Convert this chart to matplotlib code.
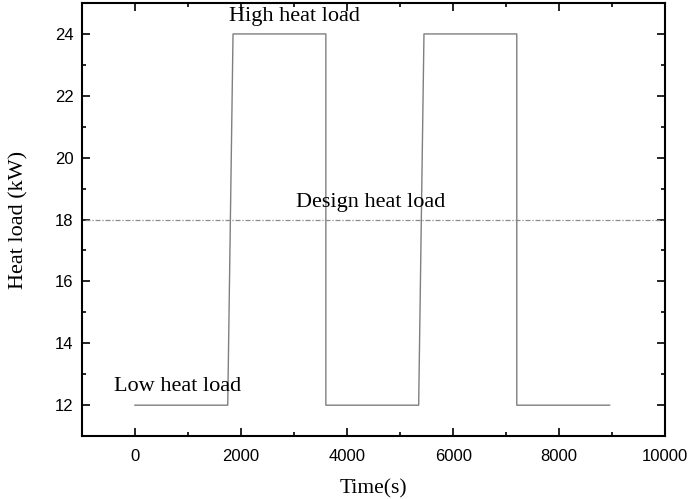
import matplotlib
matplotlib.use("Agg")
import matplotlib.pyplot as plt
from matplotlib.ticker import MultipleLocator

# Heat load profile (time in s, load in kW)
time_s = [0, 1750, 1850, 3600, 3600, 5350, 5450, 7200, 7200, 8950]
load_kw = [12, 12, 24, 24, 12, 12, 24, 24, 12, 12]

design_time = [-950, 9950]
design_load = [18, 18]

x_ticks = [0, 2000, 4000, 6000, 8000, 10000]
y_ticks = [12, 14, 16, 18, 20, 22, 24]

fig = plt.figure(figsize=(6.88, 4.99), dpi=100)
ax = fig.add_axes([0.119, 0.126, 0.848, 0.868])

ax.plot(time_s, load_kw, color="#7f7f7f", lw=1.0)
ax.plot(design_time, design_load, color="#8a8a8a", lw=0.9,
        linestyle=(0, (4, 1.5, 1, 1.5)))

serif = ["Liberation Serif", "DejaVu Serif"]
ax.text(3000, 24.25, "High heat load", family=serif, fontsize=16, ha="center", va="bottom")
ax.text(4450, 18.25, "Design heat load", family=serif, fontsize=16, ha="center", va="bottom")
ax.text(800, 12.3, "Low heat load", family=serif, fontsize=16, ha="center", va="bottom")

ax.set_xlim(-1000, 10000)
ax.set_ylim(11, 25)
ax.set_xticks(x_ticks)
ax.set_yticks(y_ticks)
ax.xaxis.set_minor_locator(MultipleLocator(1000))
ax.yaxis.set_minor_locator(MultipleLocator(1))
ax.tick_params(which="both", direction="in", top=True, right=True, width=1.2)
ax.tick_params(which="major", length=6, labelsize=12)
ax.tick_params(axis="x", which="major", pad=9)
ax.tick_params(axis="y", which="major", pad=6)
ax.tick_params(which="minor", length=3)
for lab in ax.get_xticklabels() + ax.get_yticklabels():
    lab.set_family(["Liberation Sans", "DejaVu Sans"])
for sp in ax.spines.values():
    sp.set_linewidth(1.5)

ax.set_xlabel("Time(s)", family=serif, fontsize=15.5, labelpad=11)
ax.set_ylabel("Heat load (kW)", family=serif, fontsize=16, labelpad=19)

fig.savefig("out.png", dpi=100)
